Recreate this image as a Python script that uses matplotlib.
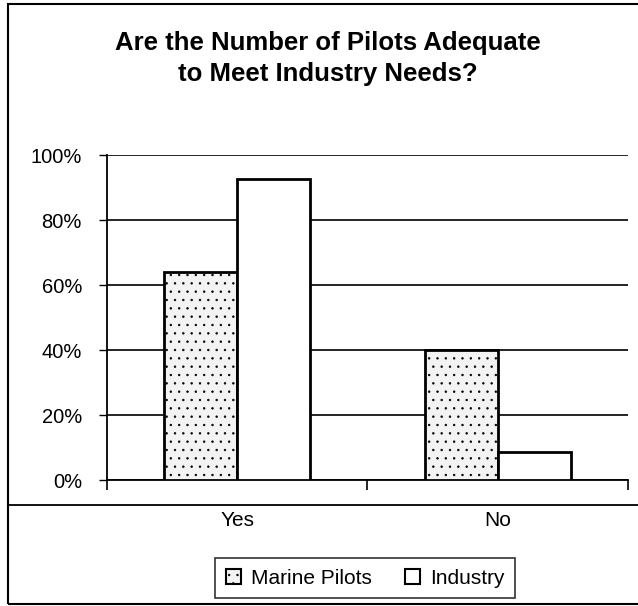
import matplotlib
matplotlib.use("Agg")
import matplotlib.pyplot as plt
import numpy as np
from matplotlib.patches import Rectangle
from matplotlib.lines import Line2D

categories = ["Yes", "No"]
marine_pilots = [64, 40]
industry = [92.5, 8.5]
series_names = ["Marine Pilots", "Industry"]
y_ticks = [0, 20, 40, 60, 80, 100]

plt.rcParams["font.family"] = ["Liberation Sans", "DejaVu Sans"]
plt.rcParams["hatch.color"] = "#c4c4c4"
plt.rcParams["hatch.linewidth"] = 0.5

fig = plt.figure(figsize=(6.38, 6.06), dpi=100)
ax = fig.add_axes([0.1677, 0.2079, 0.8166, 0.5363])

x = np.arange(len(categories))
width = 0.28
ax.bar(x - width / 2, marine_pilots, width, color="#f3f3f3", edgecolor="black",
       linewidth=2, hatch="..", zorder=3, label=series_names[0])
ax.bar(x + width / 2, industry, width, color="white", edgecolor="black",
       linewidth=2, zorder=3, label=series_names[1])

ax.set_xlim(-0.5, 1.5)
ax.set_ylim(0, 100)
ax.set_yticks(y_ticks)
ax.set_yticklabels([f"{v}%" for v in y_ticks], fontsize=14.5)
ax.yaxis.grid(True, color="black", linewidth=1.2, zorder=0)
ax.set_axisbelow(True)

ax.set_xticks(x)
ax.set_xticklabels(categories, fontsize=15)
ax.set_xticks([-0.5, 0.5, 1.5], minor=True)
ax.tick_params(axis="x", which="major", length=0, pad=22)
ax.tick_params(axis="x", which="minor", length=7, width=1.2, direction="out")
ax.tick_params(axis="y", length=6, width=1, pad=12)

for side in ["top", "right"]:
    ax.spines[side].set_visible(False)
ax.spines["left"].set_linewidth(1.3)
ax.spines["bottom"].set_linewidth(1.3)

fig.suptitle("Are the Number of Pilots Adequate\nto Meet Industry Needs?",
             x=328 / 638, y=1 - 31 / 606, fontsize=18.5, fontweight="bold",
             linespacing=1.38, va="top")

# outer chart border and the plot-area separator line
fig.add_artist(Rectangle((8 / 638, 0.004), 1.0, 0.99, transform=fig.transFigure,
                         fill=False, edgecolor="black", linewidth=1.5))
fig.add_artist(Line2D([8 / 638, 1.0], [1 - 505 / 606, 1 - 505 / 606],
                      transform=fig.transFigure, color="black", linewidth=1.3))

leg = fig.legend(loc="center", bbox_to_anchor=(365 / 638, 1 - 578 / 606), ncol=2,
                 fontsize=15, frameon=True, fancybox=False, edgecolor="black",
                 handlelength=0.75, handleheight=0.75, columnspacing=1.6,
                 handletextpad=0.45, borderpad=0.5, borderaxespad=0)
leg.get_frame().set_linewidth(1.2)
for h in leg.legend_handles:
    h.set_linewidth(1.5)

fig.savefig("out.png", dpi=100)
